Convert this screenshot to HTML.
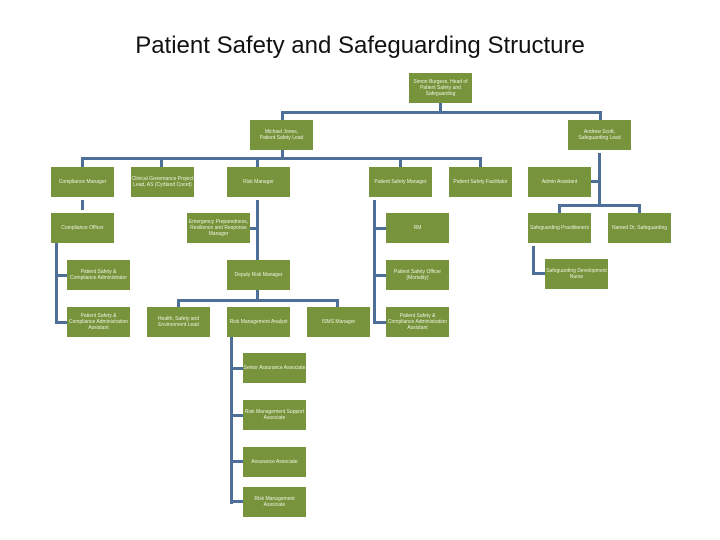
<!DOCTYPE html>
<html><head><style>
body{margin:0;width:720px;height:540px;background:#fff;position:relative;overflow:hidden;font-family:"Liberation Sans",sans-serif}
.t{position:absolute;left:0;width:720px;top:32px;text-align:center;font-size:24px;color:#111}
.b{position:absolute;width:63px;height:30px;background:#77933c;color:#eef3e0;font-size:5px;line-height:6px;display:flex;align-items:center;justify-content:center;text-align:center;overflow:hidden}
.l{position:absolute;background:#4d6f98}
</style></head><body>
<div class="t">Patient Safety and Safeguarding Structure</div>
<!-- lines -->
<div class="l" style="left:439px;top:103px;width:3px;height:10px"></div>
<div class="l" style="left:281px;top:111px;width:321px;height:3px"></div>
<div class="l" style="left:281px;top:111px;width:3px;height:9px"></div>
<div class="l" style="left:599px;top:111px;width:3px;height:9px"></div>
<div class="l" style="left:281px;top:150px;width:3px;height:8px"></div>
<div class="l" style="left:81px;top:157px;width:401px;height:3px"></div>
<div class="l" style="left:81px;top:157px;width:3px;height:10px"></div>
<div class="l" style="left:160px;top:157px;width:3px;height:10px"></div>
<div class="l" style="left:256px;top:157px;width:3px;height:10px"></div>
<div class="l" style="left:399px;top:157px;width:3px;height:10px"></div>
<div class="l" style="left:479px;top:157px;width:3px;height:10px"></div>
<div class="l" style="left:81px;top:200px;width:3px;height:10px"></div>
<div class="l" style="left:55px;top:243px;width:3px;height:81px"></div>
<div class="l" style="left:55px;top:274px;width:12px;height:3px"></div>
<div class="l" style="left:55px;top:321px;width:12px;height:3px"></div>
<div class="l" style="left:256px;top:200px;width:3px;height:60px"></div>
<div class="l" style="left:250px;top:227px;width:8px;height:3px"></div>
<div class="l" style="left:256px;top:290px;width:3px;height:11px"></div>
<div class="l" style="left:177px;top:299px;width:162px;height:3px"></div>
<div class="l" style="left:177px;top:299px;width:3px;height:8px"></div>
<div class="l" style="left:336px;top:299px;width:3px;height:8px"></div>
<div class="l" style="left:230px;top:337px;width:3px;height:167px"></div>
<div class="l" style="left:230px;top:367px;width:13px;height:3px"></div>
<div class="l" style="left:230px;top:414px;width:13px;height:3px"></div>
<div class="l" style="left:230px;top:460px;width:13px;height:3px"></div>
<div class="l" style="left:230px;top:500px;width:13px;height:3px"></div>
<div class="l" style="left:373px;top:200px;width:3px;height:124px"></div>
<div class="l" style="left:373px;top:227px;width:13px;height:3px"></div>
<div class="l" style="left:373px;top:274px;width:13px;height:3px"></div>
<div class="l" style="left:373px;top:321px;width:13px;height:3px"></div>
<div class="l" style="left:598px;top:153px;width:3px;height:53px"></div>
<div class="l" style="left:591px;top:180px;width:9px;height:3px"></div>
<div class="l" style="left:558px;top:204px;width:83px;height:3px"></div>
<div class="l" style="left:558px;top:204px;width:3px;height:9px"></div>
<div class="l" style="left:638px;top:204px;width:3px;height:9px"></div>
<div class="l" style="left:532px;top:246px;width:3px;height:28px"></div>
<div class="l" style="left:532px;top:272px;width:13px;height:3px"></div>
<!-- boxes -->
<div class="b" style="left:409px;top:73px">Simon Burgess, Head of Patient Safety and Safeguarding</div>
<div class="b" style="left:250px;top:120px">Michael Jones,<br>Patient Safety Lead</div>
<div class="b" style="left:568px;top:120px">Andrew Scott,<br>Safeguarding Lead</div>
<div class="b" style="left:51px;top:167px">Compliance Manager</div>
<div class="b" style="left:131px;top:167px">Clinical Governance Project Lead, AS (Cyrtland Coord)</div>
<div class="b" style="left:227px;top:167px">Risk Manager</div>
<div class="b" style="left:369px;top:167px">Patient Safety Manager</div>
<div class="b" style="left:449px;top:167px">Patient Safety Facilitator</div>
<div class="b" style="left:528px;top:167px">Admin Assistant</div>
<div class="b" style="left:51px;top:213px">Compliance Officer</div>
<div class="b" style="left:187px;top:213px">Emergency Preparedness, Resilience and Response Manager</div>
<div class="b" style="left:386px;top:213px">RM</div>
<div class="b" style="left:528px;top:213px">Safeguarding Practitioners</div>
<div class="b" style="left:608px;top:213px">Named Dr, Safeguarding</div>
<div class="b" style="left:67px;top:260px">Patient Safety &amp; Compliance Administrator</div>
<div class="b" style="left:227px;top:260px">Deputy Risk Manager</div>
<div class="b" style="left:386px;top:260px">Patient Safety Officer (Mortality)</div>
<div class="b" style="left:545px;top:259px">Safeguarding Development Nurse</div>
<div class="b" style="left:67px;top:307px">Patient Safety &amp; Compliance Administration Assistant</div>
<div class="b" style="left:147px;top:307px">Health, Safety and Environment Lead</div>
<div class="b" style="left:227px;top:307px">Risk Management Analyst</div>
<div class="b" style="left:307px;top:307px">ISMS Manager</div>
<div class="b" style="left:386px;top:307px">Patient Safety &amp; Compliance Administration Assistant</div>
<div class="b" style="left:243px;top:353px">Senior Assurance Associate</div>
<div class="b" style="left:243px;top:400px">Risk Management Support Associate</div>
<div class="b" style="left:243px;top:447px">Assurance Associate</div>
<div class="b" style="left:243px;top:487px">Risk Management Associate</div>
</body></html>
